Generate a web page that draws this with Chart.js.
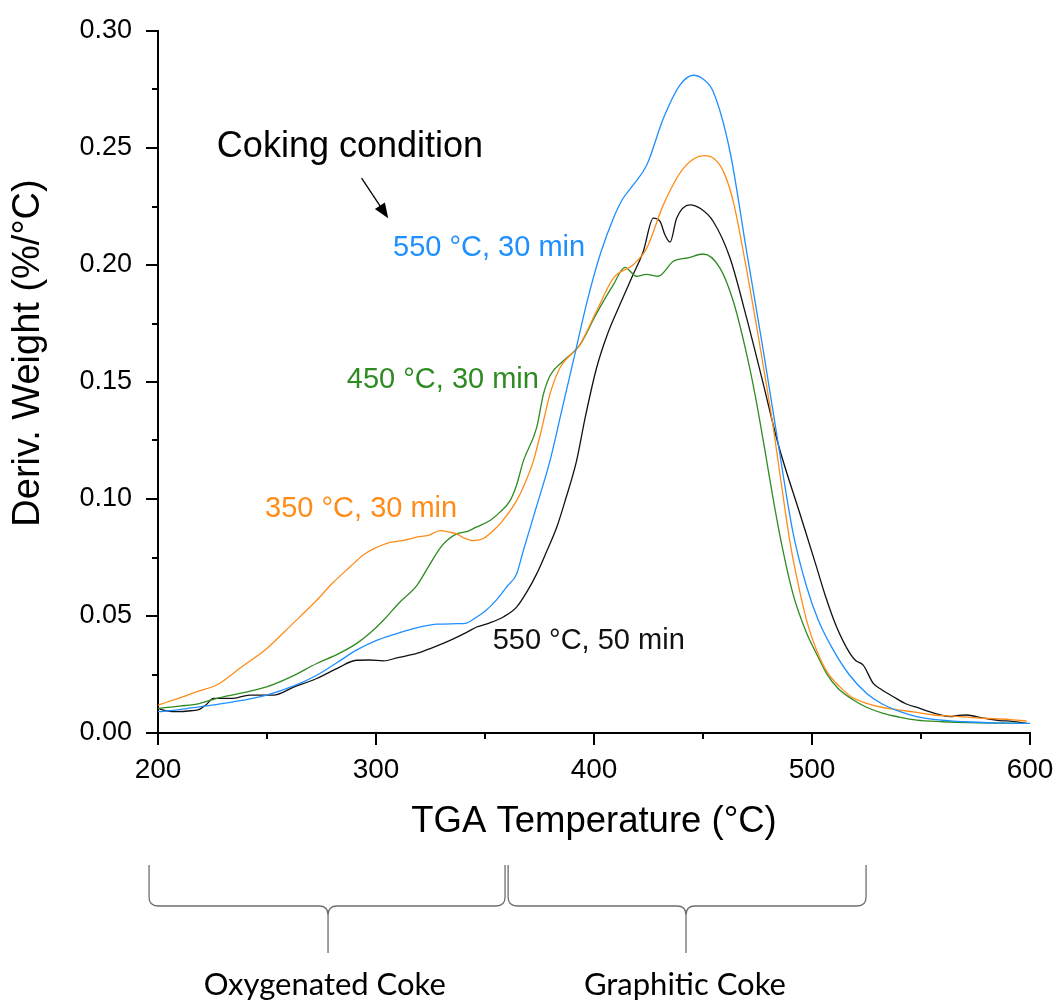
<!DOCTYPE html>
<html>
<head>
<meta charset="utf-8">
<script src="https://cdn.jsdelivr.net/npm/chart.js@4.4.1/dist/chart.umd.min.js"></script>
<style>
  html, body { margin: 0; padding: 0; background: #fff; }
</style>
</head>
<body>
<canvas id="dtgChart" width="1058" height="1004"></canvas>
<script>
// DTG curves (x = TGA temperature in °C, y = deriv. weight in %/°C)
const t550_30 = [200, 210, 219, 234.5, 249.8, 262, 272.8, 282, 291, 300, 307.9, 318, 327.8, 337, 341.6, 346.2, 350, 355.4, 360, 364.5, 367.6, 373.7, 379.8, 385, 390.5, 397, 403, 408.9, 413, 418, 424.2, 431.8, 439.4, 445.6, 450, 454.7, 462.4, 470, 477.7, 483.8, 491.4, 497.6, 503, 509.8, 517, 525.1, 532, 540.4, 548, 555.7, 570, 585, 600];
const d550_30 = [0.0091, 0.0100, 0.0112, 0.0133, 0.0162, 0.0200, 0.0247, 0.0300, 0.0354, 0.0395, 0.0420, 0.0448, 0.0465, 0.0467, 0.0470, 0.0496, 0.0520, 0.0570, 0.0625, 0.0680, 0.0780, 0.0970, 0.1163, 0.1370, 0.1590, 0.1850, 0.2050, 0.2200, 0.2280, 0.2342, 0.2427, 0.2626, 0.2769, 0.2811, 0.2795, 0.2740, 0.2484, 0.2058, 0.1632, 0.1277, 0.0851, 0.0623, 0.0480, 0.0354, 0.0250, 0.0169, 0.0125, 0.0091, 0.0070, 0.0058, 0.0048, 0.0043, 0.0041];

const t350_30 = [200, 210, 219, 226.9, 238, 249.8, 261, 272.8, 280, 288, 294, 298.8, 306.4, 312, 318.7, 324, 329.4, 334, 337, 340, 344.6, 349, 355.4, 360, 364.5, 368, 372.2, 376, 379.8, 384.4, 393.6, 401, 408.9, 418, 424.2, 431.8, 441, 450.5, 455, 459.4, 463.9, 470, 474, 478, 482, 486, 490, 494.5, 498, 502.1, 507, 512.8, 518, 525.1, 532, 540.4, 548, 555.7, 565, 578.6, 590, 598.5];
const d350_30 = [0.0119, 0.0150, 0.0180, 0.0205, 0.0280, 0.0360, 0.0460, 0.0567, 0.0640, 0.0709, 0.0760, 0.0787, 0.0815, 0.0822, 0.0837, 0.0845, 0.0865, 0.0858, 0.0851, 0.0835, 0.0822, 0.0830, 0.0879, 0.0930, 0.0993, 0.1060, 0.1163, 0.1300, 0.1448, 0.1561, 0.1660, 0.1800, 0.1944, 0.2001, 0.2072, 0.2257, 0.2413, 0.2467, 0.2455, 0.2399, 0.2271, 0.1980, 0.1770, 0.1550, 0.1320, 0.1060, 0.0810, 0.0600, 0.0465, 0.0354, 0.0260, 0.0197, 0.0155, 0.0127, 0.0110, 0.0098, 0.0088, 0.0077, 0.0072, 0.0063, 0.0058, 0.0051];

const t450_30 = [200, 210, 219, 226.9, 238, 249.8, 261, 272.8, 282, 291, 297, 303.4, 311, 318.7, 324, 329.4, 332.4, 337, 342, 346, 352.3, 357, 361.5, 364.5, 367.6, 373.7, 376.8, 380, 385.9, 393.6, 401, 408.9, 414.2, 419.5, 424, 429.5, 436.4, 443, 450.1, 457.8, 463.9, 470, 474, 478, 482, 486, 491.4, 497.6, 502, 506.7, 512, 519, 525, 532.7, 540, 548, 560, 570.9, 585, 598.5];
const d450_30 = [0.0105, 0.0115, 0.0126, 0.0148, 0.0170, 0.0197, 0.0240, 0.0297, 0.0335, 0.0382, 0.0425, 0.0482, 0.0560, 0.0630, 0.0710, 0.0790, 0.0822, 0.0851, 0.0862, 0.0880, 0.0908, 0.0945, 0.0993, 0.1060, 0.1163, 0.1305, 0.1448, 0.1530, 0.1590, 0.1660, 0.1790, 0.1916, 0.1990, 0.1952, 0.1960, 0.1952, 0.2016, 0.2030, 0.2047, 0.1987, 0.1845, 0.1620, 0.1440, 0.1230, 0.1010, 0.0810, 0.0590, 0.0425, 0.0340, 0.0254, 0.0190, 0.0141, 0.0110, 0.0084, 0.0068, 0.0055, 0.0048, 0.0044, 0.0042, 0.0041];

const t550_50 = [200, 204, 208.6, 215, 219, 222, 225.4, 234.5, 242, 252.9, 262, 272.8, 282, 291, 297, 303.4, 310, 318.7, 326, 334, 341.6, 346.2, 352, 358.4, 364.5, 369, 373.7, 378, 382.9, 387, 392, 396, 401.2, 406, 411.9, 418, 422.6, 427.2, 430.3, 432.5, 434.9, 437.9, 444, 449, 454.7, 462.4, 470, 477.7, 484.5, 494.5, 502.1, 506, 511.3, 517.4, 520, 523.5, 528.1, 532, 537.3, 543, 549.5, 556, 563.3, 567, 570.9, 578, 586.2, 592, 598.5];
const d550_50 = [0.0105, 0.0095, 0.0091, 0.0095, 0.0101, 0.0120, 0.0148, 0.0148, 0.0162, 0.0162, 0.0195, 0.0233, 0.0275, 0.0311, 0.0312, 0.0308, 0.0322, 0.0340, 0.0365, 0.0396, 0.0430, 0.0453, 0.0470, 0.0496, 0.0538, 0.0600, 0.0680, 0.0770, 0.0879, 0.1000, 0.1163, 0.1350, 0.1561, 0.1700, 0.1831, 0.1960, 0.2058, 0.2200, 0.2186, 0.2130, 0.2098, 0.2200, 0.2257, 0.2240, 0.2186, 0.2030, 0.1774, 0.1490, 0.1234, 0.0936, 0.0709, 0.0590, 0.0453, 0.0340, 0.0310, 0.0290, 0.0212, 0.0185, 0.0155, 0.0125, 0.0105, 0.0085, 0.0070, 0.0075, 0.0077, 0.0065, 0.0053, 0.0050, 0.0041];

const seriesNames = ['550 °C, 30 min', '350 °C, 30 min', '450 °C, 30 min', '550 °C, 50 min'];
const seriesColors = ['#1e8fff', '#ff8c1a', '#2e8b22', '#111111'];

const xTicks = [200, 300, 400, 500, 600];
const yTicks = [0, 0.05, 0.10, 0.15, 0.20, 0.25, 0.30];

// label anchors in data units (left x, baseline y)
const labelPos = [[307.8, 0.2037], [249.1, 0.0922], [286.6, 0.1476], [353.5, 0.0361]];

const FONT = '"Liberation Sans", Arial, sans-serif';

function toPoints(xs, ys) {
  return xs.map((x, i) => ({ x: x, y: ys[i] }));
}

const curves = [[t550_30, d550_30], [t350_30, d350_30], [t450_30, d450_30], [t550_50, d550_50]];

// tick marks (major + minor), axis titles, annotations and braces
const decorPlugin = {
  id: 'decor',
  afterDraw(chart) {
    const ctx = chart.ctx;
    const xs = chart.scales.x, ys = chart.scales.y;
    const area = chart.chartArea;
    ctx.save();
    ctx.strokeStyle = '#000';
    ctx.lineWidth = 2;
    ctx.beginPath();
    for (let v = 200; v <= 600; v += 50) {
      const px = Math.round(xs.getPixelForValue(v));
      const len = v % 100 === 0 ? 12 : 6;
      ctx.moveTo(px, area.bottom);
      ctx.lineTo(px, area.bottom + len);
    }
    for (let i = 0; i <= 12; i++) {
      const v = i * 0.025;
      const py = Math.round(ys.getPixelForValue(v));
      const len = i % 2 === 0 ? 12 : 6;
      ctx.moveTo(area.left, py);
      ctx.lineTo(area.left - len, py);
    }
    ctx.stroke();

    // axis titles
    ctx.fillStyle = '#000';
    ctx.textAlign = 'center';
    ctx.textBaseline = 'middle';
    ctx.font = '36.5px ' + FONT;
    ctx.fillText('TGA Temperature (°C)', (area.left + area.right) / 2, area.bottom + 89);
    ctx.save();
    ctx.font = '38px ' + FONT;
    ctx.translate(29, area.top + 322);
    ctx.rotate(-Math.PI / 2);
    ctx.fillText('Deriv. Weight (%/°C)', 0, 0);
    ctx.restore();

    // series labels
    ctx.textAlign = 'left';
    ctx.textBaseline = 'alphabetic';
    ctx.font = '29px ' + FONT;
    labelPos.forEach((p, i) => {
      ctx.fillStyle = seriesColors[i];
      ctx.fillText(seriesNames[i], xs.getPixelForValue(p[0]), ys.getPixelForValue(p[1]));
    });

    ctx.fillStyle = '#000';
    ctx.font = '36px ' + FONT;
    ctx.fillText('Coking condition', xs.getPixelForValue(227), ys.getPixelForValue(0.2463));

    // arrow
    const ax1 = xs.getPixelForValue(293.4), ay1 = ys.getPixelForValue(0.2371);
    const ax2 = xs.getPixelForValue(305.6), ay2 = ys.getPixelForValue(0.2200);
    const ang = Math.atan2(ay2 - ay1, ax2 - ax1);
    ctx.strokeStyle = '#000';
    ctx.lineWidth = 1.3;
    ctx.beginPath();
    ctx.moveTo(ax1, ay1);
    ctx.lineTo(ax2 - 10 * Math.cos(ang), ay2 - 10 * Math.sin(ang));
    ctx.stroke();
    ctx.beginPath();
    ctx.moveTo(ax2, ay2);
    ctx.lineTo(ax2 - 15 * Math.cos(ang) + 6 * Math.sin(ang), ay2 - 15 * Math.sin(ang) - 6 * Math.cos(ang));
    ctx.lineTo(ax2 - 15 * Math.cos(ang) - 6 * Math.sin(ang), ay2 - 15 * Math.sin(ang) + 6 * Math.cos(ang));
    ctx.closePath();
    ctx.fill();

    // braces below the x axis
    function brace(t1, tm, t2) {
      const x1 = xs.getPixelForValue(t1), xm = xs.getPixelForValue(tm), x2 = xs.getPixelForValue(t2);
      const yTop = 865, yMid = 906, yTip = 953, r = 9;
      ctx.beginPath();
      ctx.moveTo(x1, yTop);
      ctx.lineTo(x1, yMid - r);
      ctx.quadraticCurveTo(x1, yMid, x1 + r, yMid);
      ctx.lineTo(xm - r, yMid);
      ctx.quadraticCurveTo(xm, yMid, xm, yMid + r);
      ctx.lineTo(xm, yTip);
      ctx.moveTo(xm, yMid + r);
      ctx.quadraticCurveTo(xm, yMid, xm + r, yMid);
      ctx.lineTo(x2 - r, yMid);
      ctx.quadraticCurveTo(x2, yMid, x2, yMid - r);
      ctx.lineTo(x2, yTop);
      ctx.stroke();
    }
    ctx.strokeStyle = '#6e6e6e';
    ctx.lineWidth = 1.3;
    brace(195.9, 278, 359.2);
    brace(360.6, 442.2, 524.8);

    ctx.fillStyle = '#000';
    ctx.font = '31px Lato, "Open Sans", sans-serif';
    ctx.textAlign = 'center';
    ctx.textBaseline = 'middle';
    ctx.fillText('Oxygenated Coke', xs.getPixelForValue(276.5), 985);
    ctx.fillText('Graphitic Coke', xs.getPixelForValue(441.7), 985);
    ctx.restore();
  }
};

new Chart(document.getElementById('dtgChart'), {
  type: 'line',
  data: {
    datasets: curves.map((c, i) => ({
      label: seriesNames[i],
      data: toPoints(c[0], c[1]),
      borderColor: seriesColors[i],
      borderWidth: 1.3,
      pointRadius: 0,
      fill: false,
      cubicInterpolationMode: 'monotone',
    })),
  },
  options: {
    responsive: false,
    animation: false,
    layout: { padding: { top: 31, right: 28, bottom: 211, left: 0 } },
    plugins: {
      legend: { display: false },
      tooltip: { enabled: false },
    },
    scales: {
      x: {
        type: 'linear',
        min: 200,
        max: 600,
        afterBuildTicks: (axis) => { axis.ticks = xTicks.map(v => ({ value: v })); },
        ticks: { color: '#000', font: { family: FONT, size: 28 }, padding: 20 },
        grid: { display: true, drawOnChartArea: false, drawTicks: false },
        border: { display: true, color: '#000', width: 2 },
        afterFit: (s) => { s.height = 60; s.paddingLeft = 0; s.paddingRight = 0; },
      },
      y: {
        min: 0,
        max: 0.3,
        afterBuildTicks: (axis) => { axis.ticks = yTicks.map(v => ({ value: v })); },
        ticks: {
          color: '#000',
          font: { family: FONT, size: 27 },
          padding: 26,
          callback: (v) => v.toFixed(2),
        },
        grid: { display: true, drawOnChartArea: false, drawTicks: false },
        border: { display: true, color: '#000', width: 2 },
        afterFit: (s) => { s.width = 158; s.paddingTop = 0; s.paddingBottom = 0; },
      },
    },
  },
  plugins: [decorPlugin],
});
</script>
</body>
</html>
